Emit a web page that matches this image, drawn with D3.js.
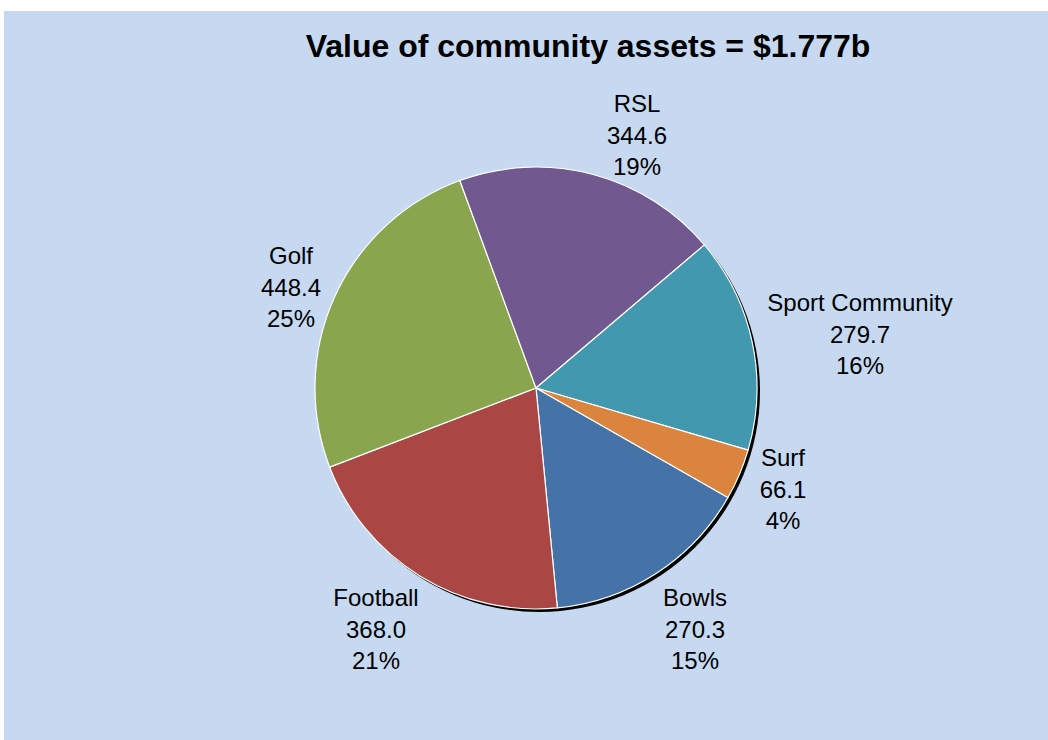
<!DOCTYPE html>
<html>
<head>
<meta charset="utf-8">
<script src="https://cdn.jsdelivr.net/npm/d3@7"></script>
<style>
  html, body { margin: 0; padding: 0; background: #ffffff; }
  svg { display: block; font-family: Arial, "Liberation Sans", sans-serif; }
</style>
</head>
<body>
<svg id="chart" width="1048" height="740"></svg>
<script>
// Community asset values ($m), listed in plotting order
const categories = ["Bowls", "Football", "Golf", "RSL", "Sport Community", "Surf"];
const values = [270.3, 368.0, 448.4, 344.6, 279.7, 66.1];
const percentLabels = ["15%", "21%", "25%", "19%", "16%", "4%"];
const sliceColors = ["#4572a7", "#aa4643", "#89a54e", "#71588f", "#4198af", "#db843d"];
const titleText = "Value of community assets = $1.777b";

// Label anchor positions relative to the pie centre (dx, dy of first line)
const labelOffsets = [
  [159, 210], [-160, 210], [-245, -132], [101, -284], [324, -85], [247, 70]
];

const W = 1048, H = 740;
const cx = 536, cy = 388, R = 221;

const svg = d3.select("#chart");

// panel background
svg.append("rect")
  .attr("x", 4).attr("y", 11)
  .attr("width", W - 4).attr("height", H - 11)
  .attr("fill", "#c6d9f0");

svg.append("text")
  .attr("x", 588).attr("y", 57)
  .attr("text-anchor", "middle")
  .attr("font-size", 32).attr("font-weight", "bold")
  .attr("fill", "#000")
  .text(titleText);

const startDeg = 119.7;
const pie = d3.pie().sort(null).value(d => d)
  .startAngle(startDeg * Math.PI / 180)
  .endAngle((startDeg + 360) * Math.PI / 180);
const arcs = pie(values);
const arc = d3.arc().innerRadius(0).outerRadius(R);

const g = svg.append("g").attr("transform", `translate(${cx},${cy})`);

// drop shadow offset down-right
g.append("circle")
  .attr("cx", 3).attr("cy", 3).attr("r", R)
  .attr("fill", "#000");

g.selectAll("path.slice")
  .data(arcs)
  .join("path")
  .attr("class", "slice")
  .attr("d", arc)
  .attr("fill", (d, i) => sliceColors[i])
  .attr("stroke", "#ffffff")
  .attr("stroke-width", 1.2)
  .attr("stroke-linejoin", "round");

const fmt = d3.format(".1f");
const labels = g.selectAll("text.lbl")
  .data(arcs)
  .join("text")
  .attr("class", "lbl")
  .attr("text-anchor", "middle")
  .attr("font-size", 24)
  .attr("fill", "#000")
  .attr("transform", (d, i) => `translate(${labelOffsets[i][0]},${labelOffsets[i][1]})`);

labels.each(function(d, i) {
  const t = d3.select(this);
  const lines = [categories[i], fmt(values[i]), percentLabels[i]];
  lines.forEach((s, k) => {
    t.append("tspan")
      .attr("x", 0)
      .attr("y", k * 31.5)
      .attr("dy", "0.35em")
      .text(s);
  });
});
</script>
</body>
</html>
